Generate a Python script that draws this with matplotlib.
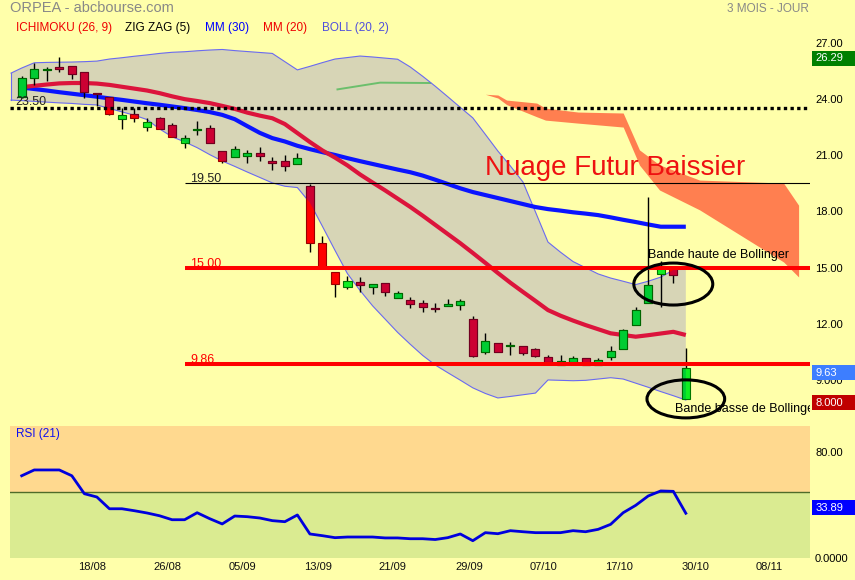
import numpy as np
import matplotlib
matplotlib.use('Agg')
import matplotlib.pyplot as plt
from matplotlib.patches import Polygon, Ellipse, Rectangle
from matplotlib.transforms import blended_transform_factory, ScaledTranslation

plt.rcParams['font.family'] = ['Liberation Sans', 'DejaVu Sans']

# daily candles, ORPEA, 54 sessions
opens = [24.12, 25.13, 25.52, 25.69, 25.74, 25.42, 24.30, 24.09, 22.91, 23.18,
         22.49, 22.97, 22.59, 21.66, 22.35, 22.43, 21.20, 20.88, 20.94, 21.10,
         20.67, 20.67, 20.51, 19.37, 16.30, 14.75, 13.98, 14.21, 13.95, 14.16,
         13.36, 13.25, 13.09, 12.85, 12.97, 12.98, 12.24, 10.51, 10.98, 10.82,
         10.80, 10.64, 10.21, 9.80, 9.98, 10.16, 9.80, 10.21, 10.64, 11.92,
         13.09, 14.68, 14.97, 8.00]
highs = [25.20, 25.90, 25.69, 26.24, 25.74, 25.42, 24.30, 24.10, 23.53, 23.53,
         22.97, 23.05, 22.73, 22.09, 22.81, 22.61, 21.20, 21.47, 21.26, 21.43,
         20.88, 20.99, 21.10, 19.46, 16.67, 14.75, 14.53, 14.48, 14.11, 14.16,
         13.77, 13.43, 13.29, 13.09, 13.34, 13.34, 12.42, 11.51, 10.98, 11.01,
         10.80, 10.73, 10.34, 10.34, 10.29, 10.16, 10.16, 10.82, 11.70, 12.88,
         18.75, 15.35, 15.05, 10.69]
lows = [24.06, 24.74, 24.97, 25.45, 25.06, 24.07, 23.60, 23.15, 22.39, 22.78,
        22.29, 22.41, 21.95, 21.37, 22.06, 21.63, 20.60, 20.88, 20.60, 20.70,
        20.19, 20.17, 20.51, 15.85, 14.96, 13.41, 13.87, 13.71, 13.61, 13.50,
        13.36, 12.86, 12.61, 12.61, 12.97, 12.75, 10.24, 10.40, 10.51, 10.35,
        10.35, 10.21, 9.85, 9.78, 9.89, 9.80, 9.78, 10.05, 10.64, 11.92,
        13.09, 12.91, 14.19, 8.00]
closes = [25.12, 25.58, 25.60, 25.60, 25.35, 24.38, 24.27, 23.18, 23.13, 22.97,
          22.78, 22.41, 21.95, 21.93, 22.40, 21.63, 20.70, 21.31, 21.10, 20.97,
          20.56, 20.40, 20.83, 16.30, 15.05, 14.11, 14.27, 14.09, 14.11, 13.70,
          13.64, 13.04, 12.88, 12.80, 12.97, 13.20, 10.30, 11.07, 10.51, 10.85,
          10.42, 10.30, 9.98, 10.00, 10.16, 9.80, 10.07, 10.55, 11.65, 12.74,
          14.05, 14.95, 14.58, 9.63]

mm30 = [24.61, 24.53, 24.45, 24.36, 24.28, 24.20, 24.12, 24.03, 23.95, 23.86,
        23.77, 23.69, 23.60, 23.51, 23.41, 23.30, 23.15, 22.92, 22.55, 22.19,
        21.91, 21.73, 21.50, 21.32, 21.16, 21.01, 20.84, 20.68, 20.53, 20.38,
        20.23, 20.09, 19.91, 19.69, 19.46, 19.23, 19.03, 18.87, 18.71, 18.55,
        18.39, 18.23, 18.12, 18.04, 17.95, 17.88, 17.80, 17.68, 17.55, 17.43,
        17.30, 17.18, 17.18, 17.18]
mm20 = [24.63, 24.70, 24.77, 24.83, 24.85, 24.85, 24.82, 24.75, 24.65, 24.55,
        24.45, 24.31, 24.14, 23.99, 23.89, 23.78, 23.63, 23.47, 23.27, 23.11,
        22.97, 22.66, 22.18, 21.70, 21.25, 20.87, 20.45, 19.97, 19.54, 19.12,
        18.68, 18.24, 17.77, 17.28, 16.79, 16.30, 15.78, 15.25, 14.71, 14.19,
        13.70, 13.22, 12.73, 12.43, 12.17, 11.93, 11.71, 11.49, 11.40, 11.31,
        11.39, 11.48, 11.57, 11.40]

# bollinger (20, 2): first value is the left edge of the band
boll_x0 = -0.85
boll_up = [25.38, 25.65, 25.93, 25.95, 25.96, 25.97, 25.99, 26.02, 26.13, 26.20, 26.28,
           26.35, 26.43, 26.49, 26.52, 26.57, 26.61, 26.64, 26.58, 26.53, 26.48,
           26.43, 25.99, 25.55, 25.74, 25.94, 26.13, 26.21, 26.29, 26.24, 26.18,
           26.12, 25.71, 25.21, 24.68, 24.12, 23.55, 22.99, 22.11, 21.22, 20.42,
           19.57, 17.97, 16.36, 15.82, 15.32, 14.99, 14.66, 14.44, 14.27, 14.09,
           14.27, 14.49, 14.87, 15.03]
boll_dn = [23.94, 23.91, 23.87, 23.83, 23.79, 23.76, 23.71, 23.68, 23.49, 23.31, 23.13,
           22.90, 22.40, 21.98, 21.71, 21.40, 21.03, 20.69, 20.40, 20.10, 19.81,
           19.52, 19.34, 19.27, 18.46, 17.20, 15.92, 14.67, 13.78, 12.96, 12.25,
           11.54, 10.91, 10.31, 9.80, 9.39, 8.99, 8.58, 8.28, 8.04, 8.12,
           8.21, 8.30, 9.00, 8.98, 8.96, 8.98, 9.05, 9.12, 9.05, 8.83,
           8.61, 8.38, 8.16, 7.93]

# ichimoku future cloud
cloud_x = [37.0, 38.0, 38.7, 41.1, 41.8, 44.4, 48.0, 49.3, 50.9, 54.1, 60.8, 62.0]
cloud_top = [24.25, 24.21, 23.94, 23.78, 23.51, 23.30, 23.25, 21.28, 20.48, 19.67, 19.51, 18.33]
cloud_bot = [24.25, 24.05, 23.70, 23.05, 22.87, 22.71, 22.50, 20.47, 19.14, 18.08, 15.30, 14.50]
kumo_green_x = [25.2, 28.6, 32.6]
kumo_green_y = [24.51, 24.87, 24.85]

rsi = [62.3, 66.7, 66.7, 66.7, 62.3, 48.7, 46.2, 37.3, 37.3, 35.8,
       34.1, 32.0, 29.0, 29.0, 34.3, 29.8, 25.8, 31.8, 31.3, 30.3,
       28.3, 27.5, 32.6, 18.2, 16.9, 15.4, 15.9, 15.9, 15.9, 15.2,
       15.2, 14.6, 14.6, 14.0, 15.4, 18.2, 13.1, 19.2, 18.4, 20.7,
       19.9, 19.2, 19.2, 19.2, 20.7, 19.9, 21.7, 25.5, 34.3, 39.9,
       47.0, 50.8, 50.5, 33.89]

date_pos = [5.63, 11.65, 17.64, 23.62, 29.61, 35.70, 41.68, 47.67, 53.74, 59.64]
date_labels = ['18/08', '26/08', '05/09', '13/09', '21/09', '29/09',
               '07/10', '17/10', '30/10', '08/11']
price_ticks = [9, 12, 15, 18, 21, 24, 27]
price_labels = ['9.000', '12.00', '15.00', '18.00', '21.00', '24.00', '27.00']

BG = '#ffffaa'
W, H = 855, 580
XMIN, XMAX = -0.934, 62.91

fig = plt.figure(figsize=(W / 100, H / 100), dpi=100, facecolor=BG)


def px_rect(x0, y0, x1, y1):
    return [x0 / W, 1 - y1 / H, (x1 - x0) / W, (y1 - y0) / H]


ax = fig.add_axes(px_rect(10, 30, 810, 418))
rx = fig.add_axes(px_rect(10, 426, 810, 558))
for a in (ax, rx):
    a.set_facecolor('none')
    for s in a.spines.values():
        s.set_visible(False)
    a.set_xlim(XMIN, XMAX)
ax.set_ylim(6.97, 27.68)

idx = np.arange(len(closes))
bx = np.r_[boll_x0, idx]
up_arr = np.array(boll_up)
dn_arr = np.array(boll_dn)

# bollinger band
band = Polygon(np.column_stack([np.r_[bx, bx[::-1]], np.r_[up_arr, dn_arr[::-1]]]),
               closed=True, fc='#d7d5b6', ec='none', zorder=1)
ax.add_patch(band)
boll_col = '#6a6af0'
ax.plot(bx, up_arr, color=boll_col, lw=0.8, zorder=1.5)
ax.plot(bx, dn_arr, color=boll_col, lw=0.8, zorder=1.5)
ax.plot([bx[0], bx[0]], [up_arr[0], dn_arr[0]], color=boll_col, lw=0.8, zorder=1.5)

# ichimoku
ax.fill_between(cloud_x, cloud_bot, cloud_top, color='#ff7f50', lw=0, zorder=1.2)
ax.plot(kumo_green_x, kumo_green_y, color='#6cbf6c', lw=1.4, zorder=1.3)

# moving averages
ax.plot(idx, mm30, color='#0a14ff', lw=3, zorder=2, solid_capstyle='butt')
ax.plot(idx, mm20, color='#dc143c', lw=3, zorder=2, solid_capstyle='butt')

# candles
o = np.array(opens)
c = np.array(closes)
rising = c >= o
body_lo = np.minimum(o, c)
body_h = np.maximum(np.abs(c - o), 0.06)
ax.vlines(idx, lows, highs, color='black', lw=1, zorder=3)
ax.bar(idx, body_h, 0.64, bottom=body_lo,
       color=np.where(rising, '#11ee22', '#ff0000'),
       edgecolor=np.where(rising, '#007700', '#990000'), lw=0.8, zorder=3.1)
muted = ax.bar(idx, body_h, 0.64, bottom=body_lo,
               color=np.where(rising, '#00cc33', '#cc0033'),
               edgecolor=np.where(rising, '#006600', '#700020'), lw=0.8, zorder=3.2)
for p in muted:
    p.set_clip_path(band)

# horizontal levels
ax.axhline(23.5, color='black', lw=2.4, ls=(0, (1, 1)), zorder=4)
ax.hlines(19.5, 13.03, XMAX, color='black', lw=0.8, zorder=4)
ax.hlines([15.0, 9.86], 13.03, XMAX, color='#ff0000', lw=2.9, zorder=4)
ax.text(-0.53, 23.84, '23.50', fontsize=9, color='#222222', va='center', zorder=5)
ax.text(13.43, 19.73, '19.50', fontsize=9, color='#222222', va='center', zorder=5)
ax.text(13.43, 15.19, '15.00', fontsize=9, color='#ff0000', va='center', zorder=5)
ax.text(13.43, 10.07, '9.86', fontsize=9, color='#ff0000', va='center', zorder=5)

# annotations
ax.text(37.0, 20.31, 'Nuage Futur Baissier', fontsize=20, color='#ee1111',
        va='center', zorder=5)
ax.text(50.0, 15.67, 'Bande haute de Bollinger', fontsize=9, color='black',
        va='center', zorder=5)
ax.text(52.1, 7.45, 'Bande basse de Bollinger', fontsize=9, color='black',
        va='center', zorder=5, clip_on=True)
ax.add_patch(Ellipse((52.0, 14.12), 6.3, 2.24, fill=False, ec='black', lw=2.2,
                     zorder=5, clip_on=False))
ax.add_patch(Ellipse((53.0, 7.99), 6.2, 2.03, fill=False, ec='black', lw=2.2,
                     zorder=5, clip_on=False))

# price axis
ax.set_xticks([])
ax.yaxis.tick_right()
ax.set_yticks(price_ticks)
ax.set_yticklabels(price_labels)
ax.tick_params(axis='y', length=0, pad=3.6, labelsize=8, labelcolor='black')


def tag(a, y, txt, fc, h, dy):
    tr = blended_transform_factory(a.transAxes, a.transData) + \
        ScaledTranslation(0, dy / 100, fig.dpi_scale_trans)
    a.add_patch(Rectangle((1.0025, y - h / 2), 0.056, h, transform=tr, fc=fc,
                          ec='none', clip_on=False, zorder=6))
    a.text(1.0065, y, txt, transform=tr, color='white', fontsize=8,
           va='center', ha='left', zorder=7, clip_on=False)


tag(ax, 26.29, '26.29', '#008000', 0.80, -2.4)
tag(ax, 9.63, '9.63', '#3d7eff', 0.80, -4.5)
tag(ax, 8.0, '8.000', '#c00000', 0.80, -3.8)

# RSI panel
rx.set_ylim(0, 100)
rx.axhspan(50, 100, color='#ffd98f', lw=0, zorder=0)
rx.axhspan(0, 50, color='#daeb91', lw=0, zorder=0)
rx.axhline(50, color='#4f6b2a', lw=1, zorder=1)
rx.plot(idx, rsi, color='#0000dd', lw=2, zorder=3)
rx.text(0.007, 0.94, 'RSI (21)', transform=rx.transAxes, color='#1010ee',
        fontsize=8.5, va='center')
rx.yaxis.tick_right()
rx.set_yticks([0, 40, 80])
rx.set_yticklabels(['0.0000', '40.00', '80.00'])
rx.tick_params(axis='y', length=0, pad=3.6, labelsize=8, labelcolor='black')
rx.set_xticks(date_pos)
rx.set_xticklabels(date_labels)
rx.tick_params(axis='x', length=0, pad=3, labelsize=8, labelcolor='#111111')
tag(rx, 38.0, '33.89', '#0000ff', 11.4, 0)

# header
fig.text(10 / W, 1 - 8.5 / H, 'ORPEA - abcbourse.com', fontsize=10.5, color='#888888',
         va='center')
fig.text(809 / W, 1 - 8.5 / H, '3 MOIS - JOUR', fontsize=8.5, color='#888888',
         va='center', ha='right')
legend = [('ICHIMOKU (26, 9)', '#ee0000', 15.7), ('ZIG ZAG (5)', 'black', 125),
          ('MM (30)', '#0000ff', 205), ('MM (20)', '#ee0000', 263.3),
          ('BOLL (20, 2)', '#4f4fdd', 321.7)]
for txt, col, x in legend:
    fig.text(x / W, 1 - 28.3 / H, txt, fontsize=8.5, color=col, va='center')

fig.savefig('out.png', dpi=100, facecolor=BG)
